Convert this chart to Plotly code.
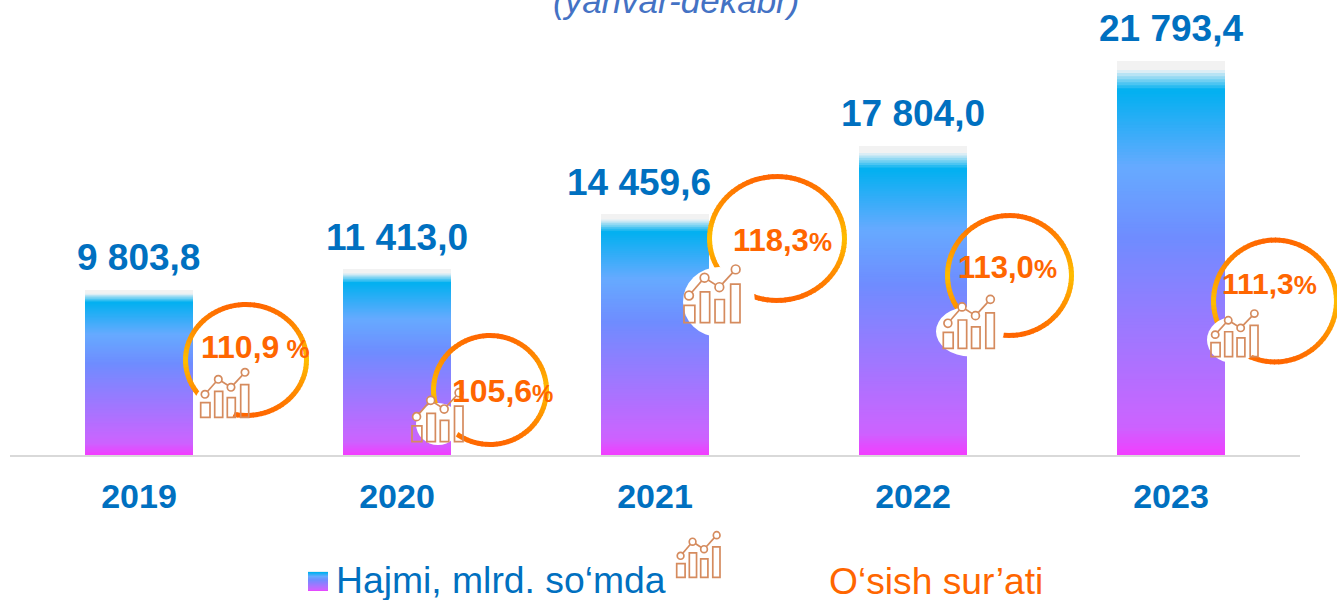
import math
import plotly.graph_objects as go

# ---------- data ----------
years = ["2019", "2020", "2021", "2022", "2023"]
value_labels = ["9 803,8", "11 413,0", "14 459,6", "17 804,0", "21 793,4"]
# bar heights as actually drawn in the reference (they are not strictly proportional to the labels)
bar_heights = [9126, 10288, 13330, 17092, 21793.4]
growth_numbers = ["110,9", "105,6", "118,3", "113,0", "111,3"]
growth_suffix = [" %", "%", "%", "%", "%"]

# ---------- style ----------
W, H = 1337, 600
L, R, BASE = 10, 1300, 455
Y_MAX = 25167
BLUE, ORANGE, ICON = "#0070C0", "#FF6600", "#D58B5E"
FONT = "Liberation Sans, Arial, sans-serif"

def hx(c):
    return tuple(int(c[i:i + 2], 16) for i in (1, 3, 5))

def ramp(stops, t):
    for (a, ca), (b, cb) in zip(stops, stops[1:]):
        if t <= b:
            f = 0 if b == a else (t - a) / (b - a)
            A, B = hx(ca), hx(cb)
            return "rgb(%d,%d,%d)" % tuple(round(A[i] + (B[i] - A[i]) * f) for i in range(3))
    return stops[-1][1]

BAR_STOPS = [(0, "#F2F2F2"), (.022, "#F2F2F2"), (.026, "#DFEEF5"), (.074, "#00B0F0"),
             (.27, "#66AAFF"), (.45, "#6F8CFF"), (.90, "#C766FF"), (.93, "#CC62FF"), (1, "#F23DFF")]
RING_STOPS = [(0, "#FF6600"), (.5, "#FFBE00"), (1, "#FF6600")]

# ---------- gradient bars: nested overlaid bars, tallest first, so no seams show ----------
N = 130
xs, ys, cols = [], [], []
for yr, h in zip(years, bar_heights):
    for i in range(N):
        xs.append(yr)
        ys.append(h * (1 - i / N))
        cols.append(ramp(BAR_STOPS, (i + .5) / N))

fig = go.Figure(go.Bar(x=xs, y=ys, width=108 / 258,
                       marker=dict(color=cols, line=dict(width=0)),
                       hoverinfo="skip", showlegend=False))

# ---------- helpers in picture pixels ----------
def px(x): return (x - L) / (R - L)
def py(y): return (BASE - y) / BASE

shapes, notes = [], []

def rect_line(x0, y0, x1, y1, color=ICON, w=1.6):
    shapes.append(dict(type="rect", xref="paper", yref="paper", layer="above",
                       x0=px(x0), x1=px(x1), y0=py(y0), y1=py(y1),
                       line=dict(color=color, width=w), fillcolor="rgba(255,255,255,0)"))

def ellipse(cx, cy, rx, ry, fill=None, line=None, w=0):
    shapes.append(dict(type="circle", xref="paper", yref="paper", layer="above",
                       x0=px(cx - rx), x1=px(cx + rx), y0=py(cy + ry), y1=py(cy - ry),
                       fillcolor=fill or "rgba(255,255,255,0)",
                       line=dict(color=line or "rgba(0,0,0,0)", width=w)))

def ring(cx, cy, rx, ry, w=5, n=96):
    for i in range(n):
        a0 = 2 * math.pi * i / n
        a1 = 2 * math.pi * (i + 1.25) / n
        x0, y0 = cx + rx * math.cos(a0), cy + ry * math.sin(a0)
        x1, y1 = cx + rx * math.cos(a1), cy + ry * math.sin(a1)
        t = ((y0 + y1) / 2 - (cy - ry)) / (2 * ry)
        shapes.append(dict(type="path", xref="paper", yref="paper", layer="above",
                           path=f"M {px(x0):.5f} {py(y0):.5f} L {px(x1):.5f} {py(y1):.5f}",
                           line=dict(color=ramp(RING_STOPS, t), width=w)))

def icon(x0, bottom, w, h):
    sx, sy = w / 48, h / 48.7
    for a, b, top in [(0, 9.3, 14.6), (14, 22, 26), (26.6, 34.6, 19.6), (40, 48, 32.6)]:
        rect_line(x0 + a * sx, bottom - top * sy, x0 + b * sx, bottom, w=1.7)
    pts = [(4.3, 23), (17.6, 38), (30.3, 30), (44.3, 45)]
    pp = [(x0 + a * sx, bottom - b * sy) for a, b in pts]
    for p, q in zip(pp, pp[1:]):
        shapes.append(dict(type="line", xref="paper", yref="paper", layer="above",
                           x0=px(p[0]), y0=py(p[1]), x1=px(q[0]), y1=py(q[1]),
                           line=dict(color=ICON, width=1.7)))
    for p in pp:
        ellipse(p[0], p[1], 3.7 * sx, 3.7 * sy, fill="#FFFFFF", line=ICON, w=1.7)

def text_px(txt, x, y, size, color, bold=False, italic=False, xanchor="left"):
    s = txt
    if bold: s = f"<b>{s}</b>"
    if italic: s = f"<i>{s}</i>"
    notes.append(dict(text=s, xref="paper", yref="paper", x=px(x), y=py(y), xanchor=xanchor,
                      yanchor="middle", showarrow=False, borderpad=0, borderwidth=0, align="left",
                      font=dict(family=FONT, size=size, color=color)))

# ---------- growth badges ----------
RINGS = [(246, 360, 60.5, 55.5), (490, 390, 56.5, 54.5), (777, 238.5, 67.5, 62),
         (1009.5, 275.5, 62, 60), (1275, 301, 61.5, 61)]
BLOBS = [(215, 405, 21, 21), (438, 424, 22, 21), (719, 302, 36, 35),
         (970, 331.5, 34, 25), (1233, 340, 26, 23)]
ICONS = [(200.7, 417.3, 48, 48.7), (412, 441.7, 51, 53), (684, 322.7, 56, 57.7),
         (943.3, 348.3, 51, 53), (1211, 356.7, 47, 46.7)]
PCT = [(201, 347, 32, 26), (452, 391, 32, 24), (733, 240, 31, 26), (958, 267, 31, 26), (1222, 283, 30, 26)]

for rg, bl, ic, pc, num, suf in zip(RINGS, BLOBS, ICONS, PCT, growth_numbers, growth_suffix):
    ring(*rg)
    ellipse(*bl, fill="#FFFFFF")
    icon(*ic)
    x, y, s1, s2 = pc
    text_px(f'{num}<span style="font-size:{s2}px">{suf}</span>', x, y, s1, ORANGE, bold=True)

# ---------- value labels ----------
LABEL_SHIFT = [-1, 0, -16, 0, 0]
LABEL_LIFT = [33, 32, 32, 32, 32]
for i, (h, lab, dx, dy) in enumerate(zip(bar_heights, value_labels, LABEL_SHIFT, LABEL_LIFT)):
    notes.append(dict(text=f"<b>{lab}</b>", x=i, y=h, xref="x", yref="y", xshift=dx, yshift=dy,
                      yanchor="middle", xanchor="center", showarrow=False,
                      font=dict(family=FONT, size=37, color=BLUE)))

# ---------- clipped subtitle ----------
text_px("(yanvar-dekabr)", 553, 0, 35, "#4472C4", italic=True)

# ---------- legend ----------
for i in range(20):
    shapes.append(dict(type="rect", xref="paper", yref="paper", layer="above",
                       x0=px(308), x1=px(328), y0=py(571 + i), y1=py(572 + i),
                       line=dict(width=0), fillcolor=ramp(BAR_STOPS, (i + .5) / 20)))
text_px("Hajmi, mlrd. so‘mda", 336, 580, 37.3, BLUE)
icon(676.7, 577.3, 43.3, 45.6)
text_px("O‘sish sur’ati", 829, 581, 37.2, ORANGE)

fig.update_layout(
    width=W, height=H, autosize=False, barmode="overlay",
    margin=dict(l=L, r=W - R, t=0, b=H - BASE, pad=0),
    paper_bgcolor="#FFFFFF", plot_bgcolor="#FFFFFF", showlegend=False,
    shapes=shapes, annotations=notes,
    xaxis=dict(type="category", categoryorder="array", categoryarray=years, range=[-0.5, 4.5],
               showline=True, linecolor="#D9D9D9", linewidth=2, showgrid=False, zeroline=False,
               ticks="", ticklabelstandoff=10, tickfont=dict(family=FONT, size=34, color=BLUE),
               tickprefix="<b>", ticksuffix="</b>", fixedrange=True),
    yaxis=dict(range=[0, Y_MAX], visible=False, fixedrange=True),
)
fig.write_html("out.html", config=dict(displayModeBar=False),
               post_script="document.body.style.margin='0';document.documentElement.style.overflow='hidden';")
